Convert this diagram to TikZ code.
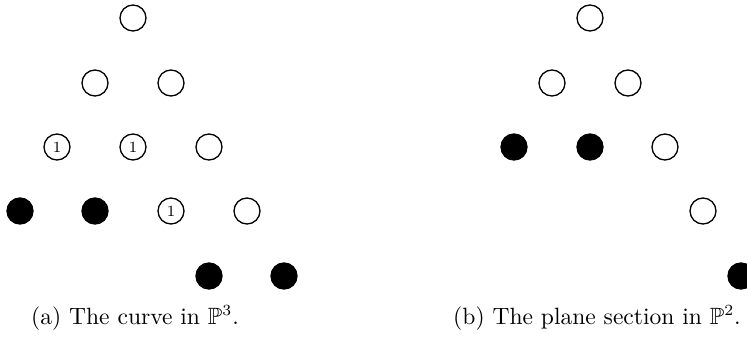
\documentclass[tikz,border=0pt]{standalone}
\usepackage{amssymb}
\begin{document}
\begin{tikzpicture}[x=0.45pt,y=-0.45pt,
  open/.style={circle,draw,line width=0.6pt,minimum size=11.7pt,inner sep=0pt,font=\scriptsize},
  full/.style={circle,draw,fill=black,line width=0.6pt,minimum size=11.7pt,inner sep=0pt},
  captext/.style={font=\fontsize{10.6pt}{12.5pt}\selectfont,inner sep=0pt}]
\useasboundingbox (0,0) rectangle (747,337);
% left panel
\node[open] (a00) at (133,18) {};
\node[open] (a10) at (95,83) {};
\node[open] (a11) at (171,83) {};
\node[open] (a20) at (57,147) {1};
\node[open] (a21) at (133,147) {1};
\node[open] (a22) at (209,147) {};
\node[full] (a30) at (20,211) {};
\node[full] (a31) at (95,211) {};
\node[open] (a32) at (171,211) {1};
\node[open] (a33) at (247,211) {};
\node[full] (a43) at (209,276) {};
\node[full] (a44) at (284,276) {};
\node[captext] (capa) at (135,318) {(a) The curve in $\mathbb{P}^3$.};
% right panel
\node[open] (b00) at (590,18) {};
\node[open] (b10) at (552,83) {};
\node[open] (b11) at (628,83) {};
\node[full] (b20) at (514,147) {};
\node[full] (b21) at (590,147) {};
\node[open] (b22) at (665,147) {};
\node[open] (b33) at (703,211) {};
\node[full] (b44) at (741,276) {};
\node[captext] (capb) at (597,318) {(b) The plane section in $\mathbb{P}^2$.};
\end{tikzpicture}
\end{document}
